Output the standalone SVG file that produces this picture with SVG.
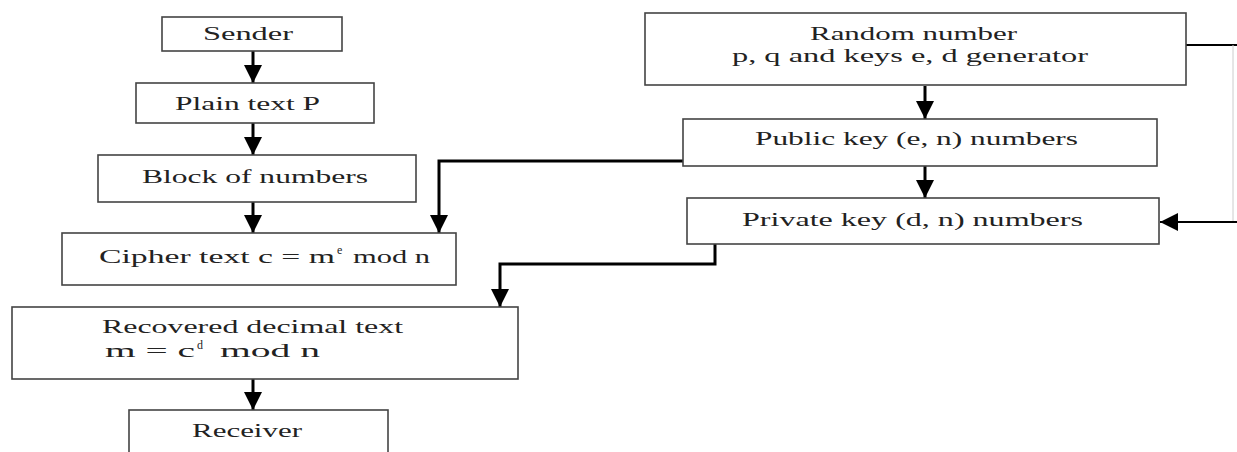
<svg xmlns="http://www.w3.org/2000/svg" width="1237" height="452" viewBox="0 0 1237 452">
<defs>
<style>
.box{fill:#fff;stroke:#444;stroke-width:1.6}
.t{font-family:"Liberation Serif","Times New Roman",serif;font-size:19px;fill:#222}
.s{font-family:"Liberation Serif","Times New Roman",serif;font-size:12px;fill:#222}
.c{fill:none;stroke:#000;stroke-width:3}
.c2{fill:none;stroke:#000;stroke-width:2}
</style>
<marker id="ah" markerUnits="userSpaceOnUse" markerWidth="18" markerHeight="18" refX="16" refY="8" orient="auto" viewBox="0 0 16 16">
<path d="M0,0 L16,8 L0,16 z" fill="#000"/>
</marker>
</defs>
<rect width="1237" height="452" fill="#fff"/>
<g id="connectors">
<line class="c" x1="253" y1="51" x2="253" y2="83" marker-end="url(#ah)"/>
<line class="c" x1="253" y1="123" x2="253" y2="155" marker-end="url(#ah)"/>
<line class="c" x1="253" y1="202" x2="253" y2="233" marker-end="url(#ah)"/>
<line class="c" x1="253" y1="379" x2="253" y2="410" marker-end="url(#ah)"/>
<line class="c" x1="925" y1="86" x2="925" y2="119" marker-end="url(#ah)"/>
<line class="c" x1="925" y1="166" x2="925" y2="198" marker-end="url(#ah)"/>
<path class="c" d="M683,161 H439 V233" marker-end="url(#ah)"/>
<path class="c" d="M715,244 V264 H500 V307" marker-end="url(#ah)"/>
<line class="c2" x1="1186" y1="45" x2="1237" y2="45"/>
<line x1="1233" y1="45" x2="1233" y2="222" stroke="#ccc" stroke-width="1"/>
<line class="c2" x1="1237" y1="222" x2="1160" y2="222" marker-end="url(#ah)"/>
</g>
<g id="sender">
<rect class="box" x="162" y="17" width="180" height="34"/>
<text class="t" x="203" y="40" textLength="90" lengthAdjust="spacingAndGlyphs">Sender</text>
</g>
<g id="plaintext">
<rect class="box" x="136" y="83" width="238" height="40"/>
<text class="t" x="175" y="110" textLength="145" lengthAdjust="spacingAndGlyphs">Plain text P</text>
</g>
<g id="block">
<rect class="box" x="98" y="155" width="318" height="47"/>
<text class="t" x="142" y="183" textLength="226" lengthAdjust="spacingAndGlyphs">Block of numbers</text>
</g>
<g id="cipher">
<rect class="box" x="62" y="233" width="394" height="52"/>
<text class="t" x="99" y="263" textLength="236" lengthAdjust="spacingAndGlyphs">Cipher text c = m</text>
<text class="s" x="337" y="254">e</text>
<text class="t" x="353" y="263" textLength="77" lengthAdjust="spacingAndGlyphs">mod n</text>
</g>
<g id="recovered">
<rect class="box" x="12" y="307" width="506" height="72"/>
<text class="t" x="102" y="333" textLength="301" lengthAdjust="spacingAndGlyphs">Recovered decimal text</text>
<text class="t" x="105" y="357" textLength="90" lengthAdjust="spacingAndGlyphs">m = c</text>
<text class="s" x="197" y="349">d</text>
<text class="t" x="220" y="357" textLength="100" lengthAdjust="spacingAndGlyphs">mod n</text>
</g>
<g id="receiver">
<rect class="box" x="129" y="410" width="259" height="60"/>
<text class="t" x="192" y="437" textLength="110" lengthAdjust="spacingAndGlyphs">Receiver</text>
</g>
<g id="generator">
<rect class="box" x="645" y="13" width="541" height="72"/>
<text class="t" x="810" y="40" textLength="207" lengthAdjust="spacingAndGlyphs">Random number</text>
<text class="t" x="732" y="62" textLength="356" lengthAdjust="spacingAndGlyphs">p, q and keys e, d generator</text>
</g>
<g id="publickey">
<rect class="box" x="683" y="119" width="474" height="47"/>
<text class="t" x="755" y="145" textLength="323" lengthAdjust="spacingAndGlyphs">Public key (e, n) numbers</text>
</g>
<g id="privatekey">
<rect class="box" x="687" y="198" width="472" height="46"/>
<text class="t" x="742" y="226" textLength="341" lengthAdjust="spacingAndGlyphs">Private key (d, n) numbers</text>
</g>
</svg>
